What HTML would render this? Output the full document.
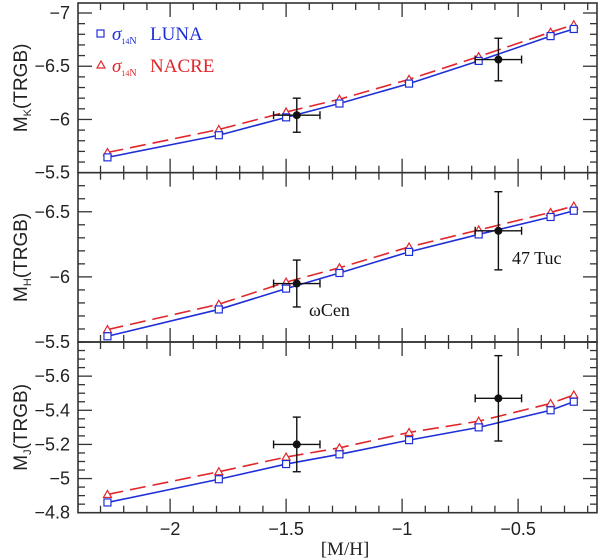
<!DOCTYPE html>
<html><head><meta charset="utf-8"><style>
html,body{margin:0;padding:0;background:#fff;}
svg{display:block;}
text{font-family:"Liberation Sans",sans-serif;}
.serif{font-family:"Liberation Serif",serif;}
</style></head><body>
<svg id="chart" width="600" height="559" viewBox="0 0 600 559" xmlns="http://www.w3.org/2000/svg"></svg>
<script>
const metallicity = [-2.27, -1.79, -1.50, -1.27, -0.97, -0.67, -0.36, -0.26];
const lunaK = [-5.644, -5.852, -6.02, -6.15, -6.337, -6.55, -6.783, -6.85];
const nacreK = [-5.69, -5.906, -6.07, -6.19, -6.377, -6.59, -6.82, -6.89];
const lunaH = [-5.544, -5.75, -5.91, -6.03, -6.192, -6.326, -6.46, -6.508];
const nacreH = [-5.595, -5.79, -5.96, -6.07, -6.23, -6.36, -6.495, -6.544];
const lunaJ = [-4.86, -4.996, -5.085, -5.142, -5.225, -5.30, -5.40, -5.45];
const nacreJ = [-4.907, -5.04, -5.126, -5.18, -5.27, -5.336, -5.44, -5.49];
const obsX = [-1.454, -0.585];
const obsXErr = [0.1, 0.1];
const obsK = [-6.04, -6.563];
const obsKErr = [0.16, 0.2];
const obsH = [-5.949, -6.354];
const obsHErr = [0.18, 0.3];
const obsJ = [-5.2, -5.47];
const obsJErr = [0.16, 0.25];
const xTicks = [-2, -1.5, -1, -0.5];
const xTickLabels = ["-2", "-1.5", "-1", "-0.5"];

const NS = "http://www.w3.org/2000/svg";
const svg = document.getElementById('chart');
const L = 78, R = 597;
const xMin = -2.397, xMax = -2.397 + (R - L) / 232;
function sx(v){ return L + (v - xMin) / (xMax - xMin) * (R - L); }
function mk(tag, attrs, parent){
  const e = document.createElementNS(NS, tag);
  for (const k in attrs) e.setAttribute(k, attrs[k]);
  (parent || svg).appendChild(e);
  return e;
}
const panels = [
  {name:'k', top:3, bot:172.7, vTop:-7.094, vBot:-5.5, luna:lunaK, nacre:nacreK, obs:obsK, err:obsKErr,
   major:[-7,-6.5,-6,-5.5], labels:["-7","-6.5","-6","-5.5"], minor:0.1, title:"K"},
  {name:'h', top:172.7, bot:342, vTop:-6.80, vBot:-5.5, luna:lunaH, nacre:nacreH, obs:obsH, err:obsHErr,
   major:[-6.5,-6,-5.5], labels:["-6.5","-6","-5.5"], minor:0.1, title:"H"},
  {name:'j', top:342, bot:512.7, vTop:-5.8, vBot:-4.8, luna:lunaJ, nacre:nacreJ, obs:obsJ, err:obsJErr,
   major:[-5.6,-5.4,-5.2,-5,-4.8], labels:["-5.6","-5.4","-5.2","-5","-4.8"], minor:0.05, title:"J"}
];
panels.forEach((p, pi) => {
  const g = mk('g', {});
  
  
  const sy = v => p.top + (v - p.vTop) / (p.vBot - p.vTop) * (p.bot - p.top);
  const fr = mk('rect', {x:L, y:p.top, width:R-L, height:p.bot-p.top, fill:'none', stroke:'#333', 'stroke-width':1.6}, g);
  
  
  for (let i = 0; ; i++) {
    const v = -2.3 + i * 0.1; if (v > xMax) break;
    const x = sx(v);
    const maj = Math.abs(v*2 - Math.round(v*2)) < 1e-6;
    const len = maj ? 14 : 7;
    mk('line', {x1:x, x2:x, y1:p.bot, y2:p.bot-len, stroke:'#333', 'stroke-width':1.3}, g);
    mk('line', {x1:x, x2:x, y1:p.top, y2:p.top+len, stroke:'#333', 'stroke-width':1.3}, g);
  }
  const n = Math.round((p.vBot - p.vTop) / p.minor) + 2;
  const start = Math.ceil(p.vTop / p.minor - 1e-6) * p.minor;
  for (let i = 0; i < n; i++) {
    const v = start + i * p.minor; if (v > p.vBot + 1e-6) break;
    const y = sy(v);
    const isMaj = p.major.some(m => Math.abs(m - v) < 1e-6);
    const len = isMaj ? 14 : 7;
    mk('line', {x1:L, x2:L+len, y1:y, y2:y, stroke:'#333', 'stroke-width':1.3}, g);
    mk('line', {x1:R, x2:R-len, y1:y, y2:y, stroke:'#333', 'stroke-width':1.3}, g);
  }
  p.major.forEach((m, i) => {
    const t = mk('text', {x:L-8, y:sy(m)+6, 'text-anchor':'end', 'font-size':18, fill:'#222'}, g);
    t.textContent = p.labels[i].replace('-', '\u2212');
    
    
  });
  const yc = (p.top + p.bot) / 2;
  const tt = mk('text', {x:0, y:0, transform:`translate(27,${yc}) rotate(-90)`, 'text-anchor':'middle', 'font-size':19, fill:'#222'}, g);
  tt.innerHTML = 'M<tspan font-size="11" dy="4">' + p.title + '</tspan><tspan dy="-4">(TRGB)</tspan>';
  
  
  const np = metallicity.map((v, i) => sx(v) + ',' + sy(p.nacre[i])).join(' ');
  const nl = mk('polyline', {points:np, fill:'none', stroke:'#e0262a', 'stroke-width':1.6, 'stroke-dasharray':'16,7'}, g);
  
  
  const lp = metallicity.map((v, i) => sx(v) + ',' + sy(p.luna[i])).join(' ');
  const ll = mk('polyline', {points:lp, fill:'none', stroke:'#1f2fd8', 'stroke-width':1.6}, g);
  
  
  metallicity.forEach((v, i) => {
    const x = sx(v), yn = sy(p.nacre[i]), yl = sy(p.luna[i]);
    const tr = mk('polygon', {points:`${x-4},${yn+3} ${x+4},${yn+3} ${x},${yn-4}`, fill:'#fff', stroke:'#e0262a', 'stroke-width':1.2}, g);
    
    
    const sq = mk('rect', {x:x-3.5, y:yl-3.5, width:7, height:7, fill:'#fff', stroke:'#1f2fd8', 'stroke-width':1.2}, g);
    
    
  });
  obsX.forEach((ox, i) => {
    const x = sx(ox), y = sy(p.obs[i]);
    const x1 = sx(ox - obsXErr[i]), x2 = sx(ox + obsXErr[i]);
    const y1 = sy(p.obs[i] - p.err[i]), y2 = sy(p.obs[i] + p.err[i]);
    const og = mk('g', {stroke:'#111', 'stroke-width':1.4}, g);
    
    
    mk('line', {x1:x1, x2:x2, y1:y, y2:y}, og);
    mk('line', {x1:x1, x2:x1, y1:y-4, y2:y+4}, og);
    mk('line', {x1:x2, x2:x2, y1:y-4, y2:y+4}, og);
    mk('line', {x1:x, x2:x, y1:y1, y2:y2}, og);
    mk('line', {x1:x-4, x2:x+4, y1:y1, y2:y1}, og);
    mk('line', {x1:x-4, x2:x+4, y1:y2, y2:y2}, og);
    mk('circle', {cx:x, cy:y, r:4, fill:'#111', stroke:'none'}, og);
  });
});
xTicks.forEach((v, i) => {
  const t = mk('text', {x:sx(v), y:535, 'text-anchor':'middle', 'font-size':18, fill:'#222'});
  t.textContent = xTickLabels[i].replace('-', '\u2212');
  
  
});
const xt = mk('text', {x:345, y:555, 'text-anchor':'middle', 'font-size':19, fill:'#222', class:'serif'});
xt.textContent = '[M/H]';


const a1 = mk('text', {x:309, y:316, 'font-size':18, fill:'#111', class:'serif'});
a1.textContent = 'ωCen';


const a2 = mk('text', {x:512, y:264, 'font-size':18, fill:'#111', class:'serif'});
a2.textContent = '47 Tuc';


const lg = mk('g', {});


const e1 = mk('g', {}, lg);


mk('rect', {x:97, y:30, width:7, height:7, fill:'#fff', stroke:'#1f2fd8', 'stroke-width':1.2}, e1);
const t1 = mk('text', {x:112, y:40, 'font-size':19, fill:'#1f2fd8', class:'serif'}, e1);
t1.innerHTML = '<tspan font-style="italic">σ</tspan><tspan font-size="8" dy="4">14</tspan><tspan font-size="10">N</tspan><tspan dy="-4" x="150">LUNA</tspan>';
const e2 = mk('g', {}, lg);


mk('polygon', {points:'97,68 105,68 101,61', fill:'#fff', stroke:'#e0262a', 'stroke-width':1.2}, e2);
const t2 = mk('text', {x:112, y:72, 'font-size':19, fill:'#e0262a', class:'serif'}, e2);
t2.innerHTML = '<tspan font-style="italic">σ</tspan><tspan font-size="8" dy="4">14</tspan><tspan font-size="10">N</tspan><tspan dy="-4" x="150">NACRE</tspan>';
</script>
</body></html>
